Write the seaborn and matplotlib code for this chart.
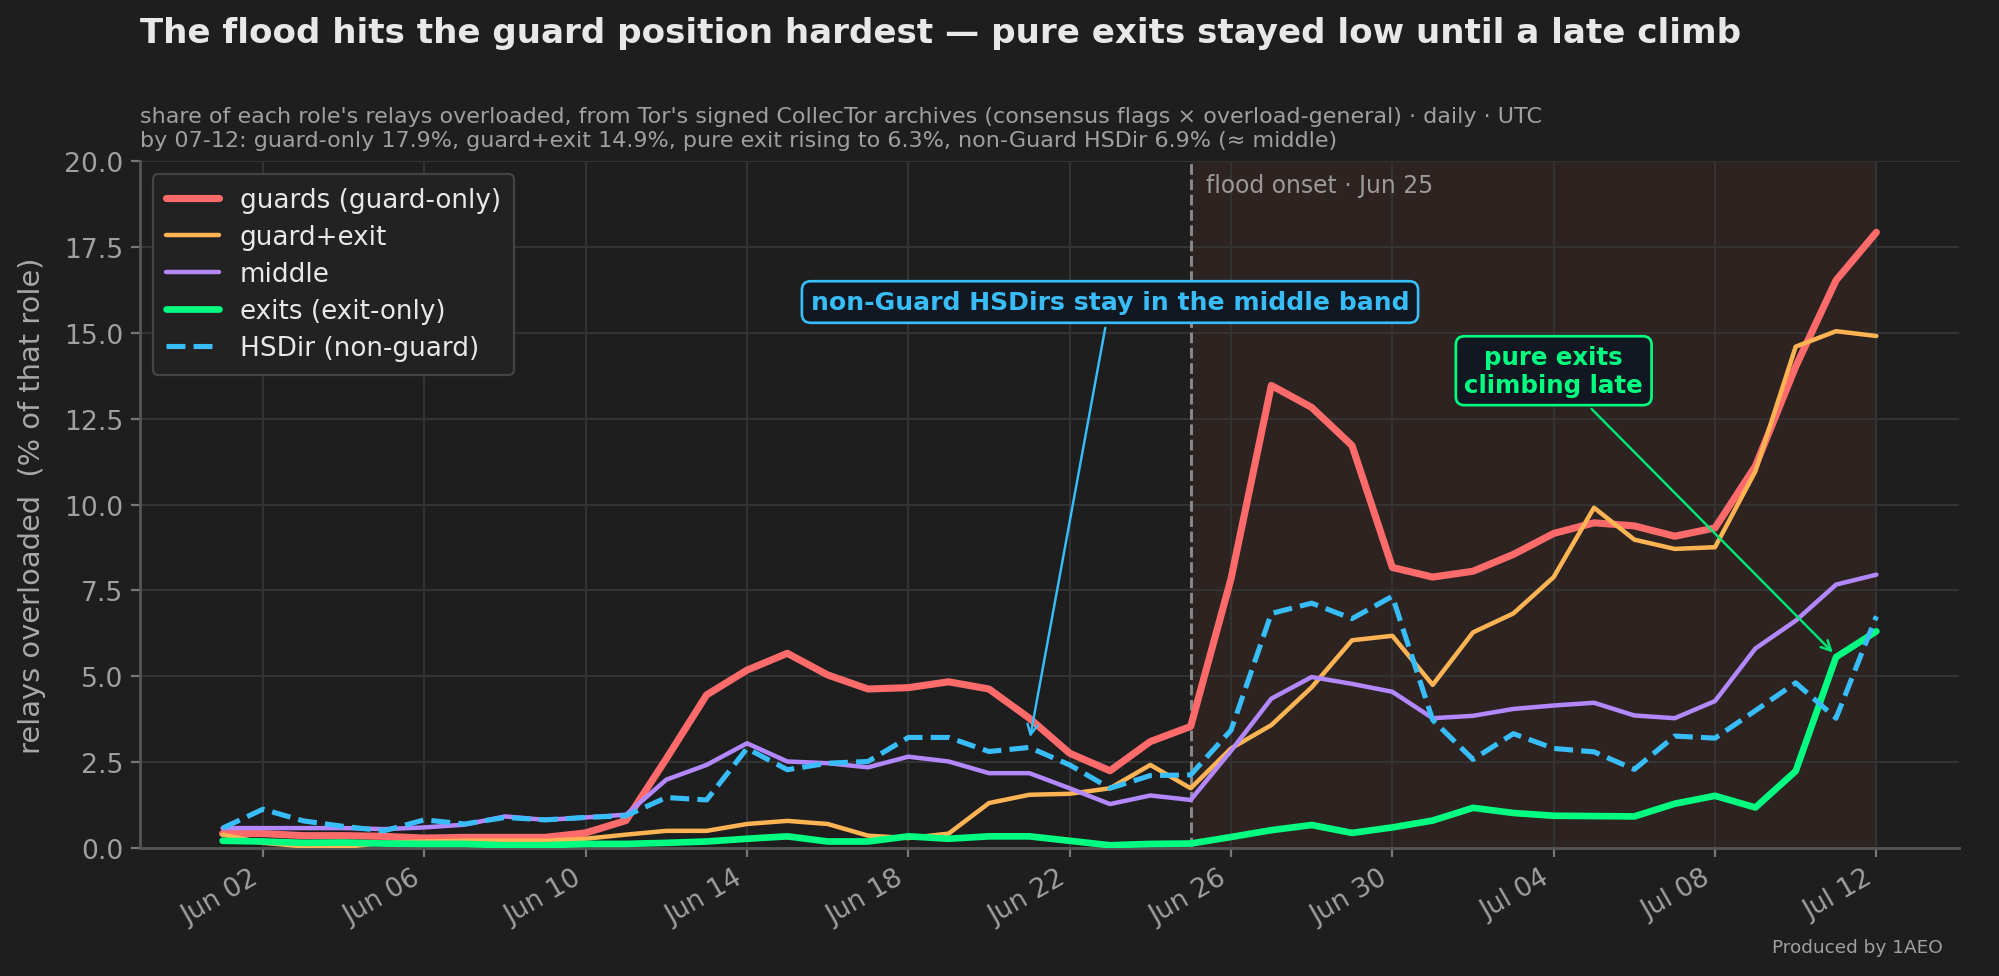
import numpy as np
import pandas as pd
import seaborn as sns
import matplotlib.pyplot as plt
import matplotlib.dates as mdates

# daily share of each role's relays flagged overloaded (%), Jun 01 .. Jul 12
days = pd.date_range("2025-06-01", "2025-07-12", freq="D")

guards = [0.42, 0.42, 0.36, 0.36, 0.34, 0.29, 0.31, 0.31, 0.31, 0.44,
          0.80, 2.60, 4.46, 5.18, 5.67, 5.04, 4.63, 4.67, 4.84, 4.63,
          3.78, 2.76, 2.25, 3.10, 3.54, 7.84, 13.47, 12.83, 11.72, 8.17,
          7.89, 8.06, 8.55, 9.16, 9.47, 9.38, 9.08, 9.32, 11.12, 14.02,
          16.53, 17.93]
guard_exit = [0.39, 0.15, 0.05, 0.03, 0.15, 0.19, 0.21, 0.21, 0.21, 0.27,
              0.39, 0.50, 0.50, 0.70, 0.79, 0.70, 0.36, 0.29, 0.42, 1.31,
              1.55, 1.58, 1.74, 2.42, 1.74, 2.90, 3.58, 4.68, 6.05, 6.18,
              4.75, 6.28, 6.83, 7.89, 9.91, 8.98, 8.71, 8.76, 10.97, 14.60,
              15.05, 14.91]
middle = [0.58, 0.58, 0.58, 0.58, 0.55, 0.60, 0.68, 0.92, 0.82, 0.89,
          0.97, 1.99, 2.42, 3.05, 2.52, 2.47, 2.35, 2.66, 2.52, 2.18,
          2.18, 1.74, 1.28, 1.53, 1.40, 2.83, 4.35, 4.98, 4.78, 4.55,
          3.78, 3.85, 4.05, 4.15, 4.23, 3.86, 3.78, 4.28, 5.81, 6.62,
          7.67, 7.96]
exits = [0.21, 0.19, 0.15, 0.16, 0.13, 0.12, 0.12, 0.08, 0.08, 0.12,
         0.12, 0.15, 0.19, 0.27, 0.34, 0.19, 0.19, 0.34, 0.27, 0.34,
         0.34, 0.21, 0.08, 0.12, 0.13, 0.32, 0.52, 0.67, 0.44, 0.60,
         0.80, 1.17, 1.02, 0.94, 0.93, 0.92, 1.29, 1.52, 1.18, 2.24,
         5.56, 6.31]
hsdir = [0.58, 1.13, 0.79, 0.63, 0.50, 0.82, 0.70, 0.89, 0.82, 0.89,
         0.94, 1.47, 1.40, 2.90, 2.28, 2.47, 2.52, 3.22, 3.22, 2.81,
         2.93, 2.42, 1.74, 2.11, 2.13, 3.43, 6.83, 7.13, 6.68, 7.33,
         3.73, 2.58, 3.33, 2.90, 2.80, 2.29, 3.26, 3.20, 4.00, 4.81,
         3.78, 6.75]

labels = ["guards (guard-only)", "guard+exit", "middle", "exits (exit-only)", "HSDir (non-guard)"]
colors = ["#ff6b6b", "#ffb454", "#b388ff", "#00ff80", "#38bdf8"]
widths = [3.2, 2.0, 2.0, 3.0, 2.3]
styles = ["-", "-", "-", "-", "--"]

flood_day = pd.Timestamp("2025-06-25")

BG = "#1e1e1e"
sns.set_theme(style="darkgrid")
plt.rcParams.update({
    "figure.facecolor": BG,
    "axes.facecolor": BG,
    "axes.edgecolor": "#555555",
    "grid.color": "#333333",
    "grid.linewidth": 0.9,
    "text.color": "#e8e8e8",
    "axes.labelcolor": "#a8a8a8",
    "xtick.color": "#a0a0a0",
    "ytick.color": "#a0a0a0",
    "font.family": ["DejaVu Sans"],
})

df = pd.DataFrame({"day": days, labels[0]: guards, labels[1]: guard_exit,
                   labels[2]: middle, labels[3]: exits, labels[4]: hsdir})
long = df.melt(id_vars="day", var_name="role", value_name="pct")

fig, ax = plt.subplots(figsize=(12.494, 6.106), dpi=160)
fig.subplots_adjust(left=0.070, right=0.980, top=0.834, bottom=0.131)

for lab, col, lw, ls in zip(labels, colors, widths, styles):
    sub = long[long["role"] == lab]
    sns.lineplot(data=sub, x="day", y="pct", ax=ax, color=col, linewidth=lw,
                 linestyle=ls, label=lab, zorder=3)

ax.axvspan(flood_day, days[-1], color="#2d2321", zorder=0, lw=0)
ax.axvline(flood_day, color="#8a8a8a", linestyle="--", linewidth=1.3, zorder=2)
ax.text(flood_day + pd.Timedelta(hours=9), 19.3, "flood onset \u00b7 Jun 25",
        color="#9a9a9a", fontsize=10.6, ha="left", va="center")

ax.set_ylim(0, 20)
ax.set_yticks(np.arange(0, 20.01, 2.5))
ax.yaxis.set_major_formatter(plt.FormatStrFormatter("%.1f"))
ax.set_xticks(pd.date_range("2025-06-02", "2025-07-12", freq="4D"))
ax.xaxis.set_major_formatter(mdates.DateFormatter("%b %d"))
ax.margins(x=0.05)
ax.tick_params(axis="both", labelsize=12, length=4, width=1, color="#777777")
ax.tick_params(axis="x", bottom=True)
ax.tick_params(axis="y", left=True)
plt.setp(ax.get_xticklabels(), rotation=30, ha="right")
ax.set_xlabel("")
ax.set_ylabel("relays overloaded  (% of that role)", fontsize=13, labelpad=8)
for side in ["top", "right"]:
    ax.spines[side].set_visible(False)
for side in ["left", "bottom"]:
    ax.spines[side].set_visible(True)
    ax.spines[side].set_color("#555555")

leg = ax.legend(loc="upper left", fontsize=11.8, frameon=True, facecolor="#222222",
                edgecolor="#444444", framealpha=1.0, borderpad=0.5, labelspacing=0.42)
for t in leg.get_texts():
    t.set_color("#e8e8e8")

ax.annotate("non-Guard HSDirs stay in the middle band",
            xy=(pd.Timestamp("2025-06-21"), 3.1), xytext=(pd.Timestamp("2025-06-23"), 15.9),
            color="#38bdf8", fontsize=11.3, fontweight="bold", ha="center", va="center",
            bbox=dict(boxstyle="round,pad=0.35", fc="#121821", ec="#38bdf8", lw=1.2),
            arrowprops=dict(arrowstyle="->", color="#38bdf8", lw=1.1), zorder=5)
ax.annotate("pure exits\nclimbing late",
            xy=(pd.Timestamp("2025-07-11"), 5.6), xytext=(pd.Timestamp("2025-07-04"), 13.9),
            color="#00ff80", fontsize=11, fontweight="bold", ha="center", va="center",
            bbox=dict(boxstyle="round,pad=0.35", fc="#121821", ec="#00ff80", lw=1.2),
            arrowprops=dict(arrowstyle="->", color="#00e676", lw=1.1), zorder=5)

fig.text(0.070, 0.966, "The flood hits the guard position hardest \u2014 pure exits stayed low until a late climb",
         fontsize=15.35, fontweight="bold", color="#e8e8e8", ha="left", va="center")
fig.text(0.070, 0.890,
         "share of each role's relays overloaded, from Tor's signed CollecTor archives (consensus flags \u00d7 overload-general) \u00b7 daily \u00b7 UTC\n"
         "by 07-12: guard-only 17.9%, guard+exit 14.9%, pure exit rising to 6.3%, non-Guard HSDir 6.9% (\u2248 middle)",
         fontsize=10, color="#a0a0a0", ha="left", va="top", linespacing=1.25)
fig.text(0.972, 0.030, "Produced by 1AEO", fontsize=8.3, color="#a0a0a0", ha="right", va="center")

fig.savefig("out.png", dpi=160, facecolor=BG)
